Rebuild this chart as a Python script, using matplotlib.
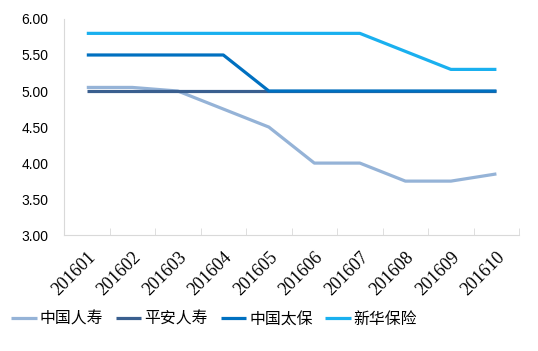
import matplotlib
matplotlib.use("Agg")
import matplotlib.pyplot as plt
import numpy as np

months = ["201601", "201602", "201603", "201604", "201605",
          "201606", "201607", "201608", "201609", "201610"]
names = ["中国人寿", "平安人寿", "中国太保", "新华保险"]
china_life = [5.05, 5.05, 5.00, 4.75, 4.50, 4.00, 4.00, 3.75, 3.75, 3.85]
pingan_life = [5.00, 5.00, 5.00, 5.00, 5.00, 5.00, 5.00, 5.00, 5.00, 5.00]
cpic = [5.50, 5.50, 5.50, 5.50, 5.00, 5.00, 5.00, 5.00, 5.00, 5.00]
xinhua = [5.80, 5.80, 5.80, 5.80, 5.80, 5.80, 5.80, 5.55, 5.30, 5.30]
colors = ["#95b3d7", "#3a5f8f", "#0070c0", "#1ab0ef"]

fig = plt.figure(figsize=(5.38, 3.51), dpi=100)
ax = fig.add_axes([0.119, 0.330, 0.846, 0.616])

x = np.arange(len(months))
for vals, name, c in zip([china_life, pingan_life, cpic, xinhua], names, colors):
    ax.plot(x, vals, color=c, linewidth=2.3, label=name, solid_capstyle="butt")

ax.set_xlim(-0.5, len(months) - 0.5)
ax.set_ylim(3.0, 6.0)
yt = np.arange(3.0, 6.01, 0.5)
ax.set_yticks(yt)
ax.set_yticklabels([f"{v:.2f}" for v in yt], fontsize=10, family="Liberation Sans")
ax.tick_params(axis="y", length=0, pad=11)

ax.set_xticks(x)
ax.set_xticklabels(months, rotation=45, ha="right", rotation_mode="anchor",
                   fontsize=13, family="Liberation Serif")
ax.set_xticks(np.arange(-0.5, len(months)), minor=True)
ax.tick_params(axis="x", which="major", length=0, pad=10)
ax.tick_params(axis="x", which="minor", length=5, color="#d9d9d9", direction="in")

for s in ["top", "right"]:
    ax.spines[s].set_visible(False)
ax.spines["left"].set_color("#d9d9d9")
ax.spines["bottom"].set_color("#d9d9d9")

ax.legend(loc="center left", bbox_to_anchor=(-0.116, -0.389), ncol=4, frameon=False,
          prop={"family": ["Noto Sans CJK SC", "DejaVu Sans"], "size": 11.4},
          handlelength=1.6, handletextpad=0.2, columnspacing=0.8,
          borderaxespad=0, borderpad=0)

fig.savefig("out.png", dpi=100)
